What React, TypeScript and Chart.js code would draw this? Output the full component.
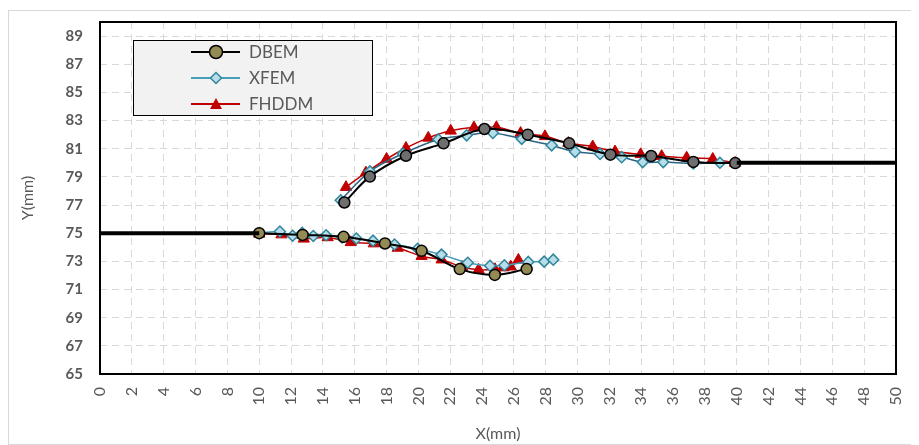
import React, { useEffect, useRef } from "react";
import { Chart, registerables } from "chart.js";
Chart.register(...registerables);

// ---- data ----
const xTickValues = [0,2,4,6,8,10,12,14,16,18,20,22,24,26,28,30,32,34,36,38,40,42,44,46,48,50];
const yTickValues = [65,67,69,71,73,75,77,79,81,83,85,87,89];

// DBEM lower branch
const dbemLowX = [10, 12.73, 15.3, 17.9, 20.2, 22.6, 24.8, 26.8];
const dbemLowY = [75.0, 74.88, 74.74, 74.27, 73.75, 72.45, 72.04, 72.45];
// DBEM upper branch
const dbemUpX = [15.35, 16.95, 19.22, 21.58, 24.15, 26.87, 29.47, 32.06, 34.62, 37.27, 39.9];
const dbemUpY = [77.18, 79.02, 80.5, 81.38, 82.4, 82.0, 81.38, 80.58, 80.48, 80.06, 79.98];

// XFEM lower branch
const xfemLowX = [10, 11.3, 12.1, 12.7, 13.4, 14.2, 15.2, 16.1, 17.15, 18.5, 19.95, 21.45, 23.1, 24.5, 25.4, 26.9, 27.9, 28.47];
const xfemLowY = [75.0, 75.12, 74.82, 75.02, 74.8, 74.85, 74.7, 74.62, 74.47, 74.2, 73.9, 73.48, 72.9, 72.69, 72.72, 72.96, 72.98, 73.12];
// XFEM upper branch
const xfemUpX = [15.12, 16.96, 19.03, 21.25, 23.03, 24.68, 26.49, 28.37, 29.84, 31.41, 32.77, 34.09, 35.38, 37.27, 38.94];
const xfemUpY = [77.34, 79.39, 80.65, 81.66, 81.95, 82.12, 81.7, 81.24, 80.78, 80.63, 80.4, 80.05, 80.05, 79.95, 80.0];

// FHDDM lower branch
const fhddmLowX = [10, 11.4, 12.8, 14.3, 15.75, 17.2, 18.7, 20.2, 21.46, 22.75, 23.78, 24.81, 25.35, 25.8, 26.28];
const fhddmLowY = [74.95, 74.9, 74.6, 74.7, 74.35, 74.26, 73.95, 73.37, 73.12, 72.6, 72.4, 72.44, 72.56, 72.62, 73.1];
// FHDDM upper branch
const fhddmUpX = [15.45, 16.7, 18.0, 19.22, 20.62, 22.03, 23.49, 24.9, 26.42, 27.95, 29.42, 30.95, 32.35, 33.96, 35.28, 36.85, 38.49, 39.89];
const fhddmUpY = [78.27, 79.3, 80.27, 81.05, 81.77, 82.27, 82.5, 82.52, 82.11, 81.88, 81.4, 81.15, 80.8, 80.6, 80.47, 80.36, 80.27, 79.98];

// boundary (crack faces outside the propagated region)
const leftEdgeX = [0, 10];
const leftEdgeY = [75, 75];
const rightEdgeX = [40, 50];
const rightEdgeY = [80, 80];

const legendLabels = ["DBEM", "XFEM", "FHDDM"];

const pts = (xs: number[], ys: number[]) => xs.map((x, i) => ({ x, y: ys[i] }));

const FONT = "Lato, 'Open Sans', sans-serif";
const GRAY_TEXT = "#595959";

const frameAndLegend = {
  id: "frameAndLegend",
  beforeDraw(chart: any) {
    const ctx = chart.ctx;
    ctx.save();
    ctx.strokeStyle = "#d9d9d9";
    ctx.lineWidth = 1;
    ctx.strokeRect(0.5, 2.5, chart.width - 1, chart.height - 3);
    ctx.restore();
  },
  afterDraw(chart: any) {
    const ctx = chart.ctx;
    const a = chart.chartArea;
    ctx.save();
    ctx.strokeStyle = "#000";
    ctx.lineWidth = 2;
    ctx.strokeRect(a.left, a.top, a.right - a.left, a.bottom - a.top);

    // legend box
    const bx = 125, by = 32, bw = 239, bh = 75;
    ctx.fillStyle = "#f2f2f2";
    ctx.fillRect(bx, by, bw, bh);
    ctx.strokeStyle = "#000";
    ctx.lineWidth = 1;
    ctx.strokeRect(bx + 0.5, by + 0.5, bw, bh);

    const rows = [44, 70, 96];
    const lineCols = ["#000000", "#4a9dbb", "#c00000"];
    rows.forEach((ry, i) => {
      ctx.strokeStyle = lineCols[i];
      ctx.lineWidth = 2;
      ctx.beginPath();
      ctx.moveTo(183, ry);
      ctx.lineTo(232, ry);
      ctx.stroke();
      const mx = 208;
      ctx.lineWidth = 1.5;
      if (i === 0) {
        ctx.fillStyle = "#948a54";
        ctx.strokeStyle = "#000";
        ctx.beginPath();
        ctx.arc(mx, ry, 6.5, 0, Math.PI * 2);
        ctx.fill();
        ctx.stroke();
      } else if (i === 1) {
        ctx.fillStyle = "#b7dee8";
        ctx.strokeStyle = "#31859c";
        ctx.beginPath();
        ctx.moveTo(mx, ry - 5.5);
        ctx.lineTo(mx + 5.5, ry);
        ctx.lineTo(mx, ry + 5.5);
        ctx.lineTo(mx - 5.5, ry);
        ctx.closePath();
        ctx.fill();
        ctx.stroke();
      } else {
        ctx.fillStyle = "#c00000";
        ctx.beginPath();
        ctx.moveTo(mx, ry - 6);
        ctx.lineTo(mx + 6, ry + 5);
        ctx.lineTo(mx - 6, ry + 5);
        ctx.closePath();
        ctx.fill();
      }
      ctx.fillStyle = GRAY_TEXT;
      ctx.font = `17px ${FONT}`;
      ctx.textBaseline = "middle";
      ctx.textAlign = "left";
      ctx.fillText(legendLabels[i], 241, ry + 1);
    });
    ctx.restore();
  },
};

export default function App() {
  const ref = useRef<HTMLCanvasElement>(null);
  useEffect(() => {
    if (!ref.current) return;
    const dbemStyle = {
      borderColor: "#000000",
      borderWidth: 2,
      pointStyle: "circle",
      pointRadius: 5.5,
      pointBorderColor: "#000000",
      pointBorderWidth: 1.5,
      tension: 0.35,
      showLine: true,
    };
    const xfemStyle = {
      borderWidth: 1.5,
      pointStyle: "rectRot",
      pointRadius: 5.5,
      pointBackgroundColor: "#b7dee8",
      pointBorderColor: "#31859c",
      pointBorderWidth: 1.5,
      tension: 0.35,
      showLine: true,
    };
    const fhddmStyle = {
      borderColor: "#c00000",
      borderWidth: 1.5,
      pointStyle: "triangle",
      pointRadius: 6.5,
      pointBackgroundColor: "#c00000",
      pointBorderColor: "#c00000",
      pointBorderWidth: 1,
      tension: 0.35,
      showLine: true,
    };
    const edgeStyle = {
      borderColor: "#000000",
      borderWidth: 4,
      pointRadius: 0,
      showLine: true,
      tension: 0,
    };
    const chart = new Chart(ref.current, {
      type: "scatter",
      data: {
        datasets: [
          { label: "edgeL", data: pts(leftEdgeX, leftEdgeY), ...edgeStyle },
          { label: "edgeR", data: pts(rightEdgeX, rightEdgeY), ...edgeStyle },
          { label: "DBEM", data: pts(dbemLowX, dbemLowY), ...dbemStyle, pointBackgroundColor: "#948a54" },
          { label: "DBEM upper", data: pts(dbemUpX, dbemUpY), ...dbemStyle, pointBackgroundColor: "#6f6f6f" },
          { label: "XFEM", data: pts(xfemLowX, xfemLowY), ...xfemStyle, borderColor: "#4a9dbb" },
          { label: "XFEM upper", data: pts(xfemUpX, xfemUpY), ...xfemStyle, borderColor: "#2a6384" },
          { label: "FHDDM", data: pts(fhddmLowX, fhddmLowY), ...fhddmStyle },
          { label: "FHDDM upper", data: pts(fhddmUpX, fhddmUpY), ...fhddmStyle },
        ] as any,
      },
      options: {
        responsive: false,
        animation: false,
        devicePixelRatio: 1,
        layout: { padding: { left: 0, top: 14, right: 23, bottom: 0 } },
        plugins: {
          legend: { display: false },
          tooltip: { enabled: false },
        },
        scales: {
          x: {
            type: "linear",
            min: 0,
            max: 50,
            afterBuildTicks: (s: any) => {
              s.ticks = xTickValues.map((v) => ({ value: v }));
            },
            ticks: {
              minRotation: 90,
              maxRotation: 90,
              color: GRAY_TEXT,
              font: { family: FONT, size: 16 },
              padding: 13,
            },
            grid: { color: "#d9d9d9", lineWidth: 1, drawTicks: false },
            border: { display: false, dash: [7, 5] },
            title: {
              display: true,
              text: "X(mm)",
              color: GRAY_TEXT,
              font: { family: FONT, size: 16 },
              padding: { top: 2, bottom: 2 },
            },
            afterFit: (s: any) => {
              s.height = 71;
              s.paddingLeft = 0;
              s.paddingRight = 0;
            },
          },
          y: {
            type: "linear",
            min: 65,
            max: 90,
            afterBuildTicks: (s: any) => {
              s.ticks = yTickValues.map((v) => ({ value: v }));
            },
            ticks: {
              color: GRAY_TEXT,
              font: { family: FONT, size: 15, weight: "bold" },
              padding: 17,
            },
            grid: { color: "#d9d9d9", lineWidth: 1, drawTicks: false },
            border: { display: false, dash: [7, 5] },
            title: {
              display: true,
              text: "Y(mm)",
              color: GRAY_TEXT,
              font: { family: FONT, size: 16 },
              padding: { top: 10, bottom: 0 },
            },
            afterFit: (s: any) => {
              s.width = 92;
              s.paddingTop = 0;
              s.paddingBottom = 0;
            },
          },
        },
      } as any,
      plugins: [frameAndLegend],
    });
    return () => chart.destroy();
  }, []);
  return (
    <div style={{ width: 911, height: 437 }}>
      <canvas ref={ref} width={911} height={437} style={{ display: "block" }} />
    </div>
  );
}
